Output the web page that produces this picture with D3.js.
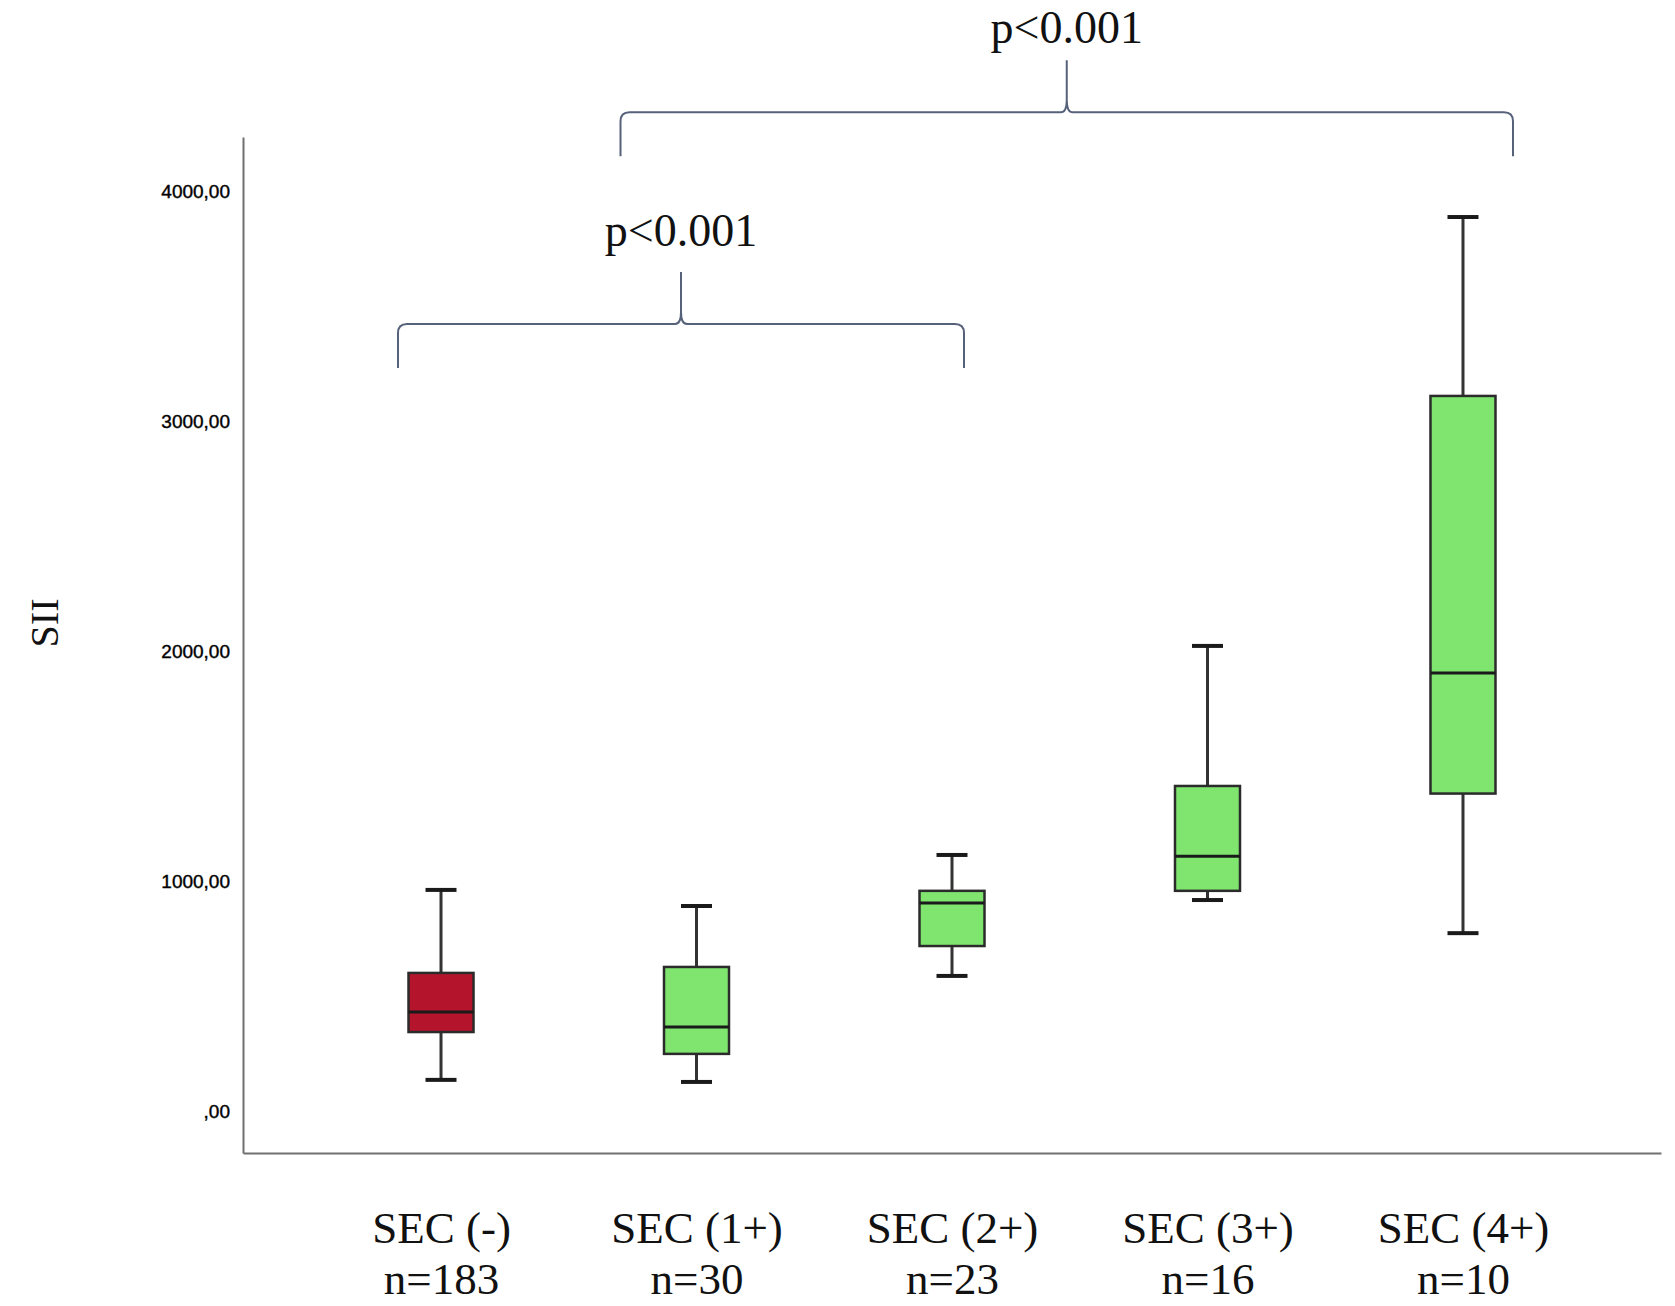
<!DOCTYPE html>
<html>
<head>
<meta charset="utf-8">
<script src="https://cdn.jsdelivr.net/npm/d3@7"></script>
<style>
  body { margin: 0; background: #fff; }
  svg { display: block; }
  .serif { font-family: "Liberation Serif", "Times New Roman", serif; fill: #111; }
</style>
</head>
<body>
<svg></svg>
<script>
// data
const categories = ["SEC (-)", "SEC (1+)", "SEC (2+)", "SEC (3+)", "SEC (4+)"];
const counts = [183, 30, 23, 16, 10];
const whiskerLow = [135, 126, 587, 917, 773];
const q1 = [343, 248, 717, 957, 1380];
const median = [430, 365, 904, 1107, 1904];
const q3 = [600, 626, 957, 1413, 3109];
const whiskerHigh = [961, 891, 1113, 2022, 3887];
const yTicks = [0, 1000, 2000, 3000, 4000];
const yDomain = [-183, 4235];
const comparisons = [
  { from: 0, to: 2, level: 3422, label: "p<0.001" },
  { from: 1, to: 4, level: 4343, label: "p<0.001" }
];

const width = 1675, height = 1306;
const margin = ({ top: 137, right: 14, bottom: 153, left: 243 });

const boxes = categories.map((c, i) => ({
  cat: c, n: counts[i], lo: whiskerLow[i], q1: q1[i], med: median[i], q3: q3[i], hi: whiskerHigh[i]
}));

const x = d3.scalePoint()
  .domain(categories)
  .range([margin.left, width - margin.right])
  .padding(0.775);

const y = d3.scaleLinear()
  .domain(yDomain)
  .range([height - margin.bottom, margin.top]);

const color = d3.scaleOrdinal(categories, ["#b5152c", "#7fe56f", "#7fe56f", "#7fe56f", "#7fe56f"]);

const boxWidth = 65;
const capWidth = 31;

const svg = d3.select("svg")
  .attr("width", width)
  .attr("height", height)
  .attr("viewBox", [0, 0, width, height]);

// y axis
const yAxis = g => g
  .attr("transform", `translate(${margin.left},0)`)
  .call(d3.axisLeft(y)
    .tickValues(yTicks)
    .tickSize(0)
    .tickSizeOuter(0)
    .tickPadding(13)
    .tickFormat(d => d === 0 ? ",00" : d + ",00"))
  .call(g => g.select(".domain").attr("stroke", "#707070").attr("stroke-width", 2))
  .call(g => g.selectAll(".tick text")
    .attr("font-family", "'Liberation Sans', Arial, sans-serif")
    .attr("font-size", 19)
    .attr("fill", "#000")
    .attr("stroke", "#000")
    .attr("stroke-width", 0.4));

// x axis with two-line labels
const xAxis = g => g
  .attr("transform", `translate(0,${height - margin.bottom})`)
  .call(d3.axisBottom(x).tickSize(0).tickSizeOuter(0).tickFormat(""))
  .call(g => g.select(".domain").attr("stroke", "#707070").attr("stroke-width", 2))
  .call(g => g.selectAll(".tick").each(function (d, i) {
    const t = d3.select(this).append("text")
      .attr("class", "serif")
      .attr("text-anchor", "middle")
      .attr("font-size", 45)
      .attr("fill", "#111");
    t.append("tspan").attr("x", 0).attr("y", 90).text(d);
    t.append("tspan").attr("x", 0).attr("y", 141).text("n=" + counts[i]);
  }));

svg.append("g").call(yAxis);
svg.append("g").call(xAxis);

// y title
svg.append("text")
  .attr("class", "serif")
  .attr("transform", `translate(58,${(margin.top + height - margin.bottom) / 2 - 22}) rotate(-90)`)
  .attr("text-anchor", "middle")
  .attr("font-size", 40)
  .text("SII");

// boxplots
const box = svg.append("g")
  .selectAll("g")
  .data(boxes)
  .join("g")
  .attr("transform", d => `translate(${x(d.cat)},0)`);

box.append("line")
  .attr("y1", d => y(d.lo))
  .attr("y2", d => y(d.q1))
  .attr("stroke", "#333")
  .attr("stroke-width", 3);

box.append("line")
  .attr("y1", d => y(d.q3))
  .attr("y2", d => y(d.hi))
  .attr("stroke", "#333")
  .attr("stroke-width", 3);

box.selectAll(".cap")
  .data(d => [d.lo, d.hi])
  .join("line")
  .attr("class", "cap")
  .attr("x1", -capWidth / 2)
  .attr("x2", capWidth / 2)
  .attr("y1", v => y(v))
  .attr("y2", v => y(v))
  .attr("stroke", "#1a1a1a")
  .attr("stroke-width", 4);

box.append("rect")
  .attr("x", -boxWidth / 2)
  .attr("width", boxWidth)
  .attr("y", d => y(d.q3))
  .attr("height", d => y(d.q1) - y(d.q3))
  .attr("fill", d => color(d.cat))
  .attr("stroke", "#2b2b2b")
  .attr("stroke-width", 2.5);

box.append("line")
  .attr("x1", -boxWidth / 2)
  .attr("x2", boxWidth / 2)
  .attr("y1", d => y(d.med))
  .attr("y2", d => y(d.med))
  .attr("stroke", "#1a1a1a")
  .attr("stroke-width", 3);

// significance brackets
const leftPad = [43, 76];
const rightPad = [12, 50];
const drop = 44, tipH = 52, r = 9, tr = 6;

comparisons.forEach((c, i) => {
  const x0 = x(categories[c.from]) - leftPad[i];
  const x1 = x(categories[c.to]) + rightPad[i];
  const hy = y(c.level);
  const tx = (x0 + x1) / 2;
  const p = d3.path();
  p.moveTo(x0, hy + drop);
  p.lineTo(x0, hy + r);
  p.quadraticCurveTo(x0, hy, x0 + r, hy);
  p.lineTo(tx - tr, hy);
  p.quadraticCurveTo(tx, hy, tx, hy - 12);
  p.lineTo(tx, hy - tipH);
  p.moveTo(tx, hy - 12);
  p.quadraticCurveTo(tx, hy, tx + tr, hy);
  p.lineTo(x1 - r, hy);
  p.quadraticCurveTo(x1, hy, x1, hy + r);
  p.lineTo(x1, hy + drop);
  svg.append("path")
    .attr("d", p.toString())
    .attr("fill", "none")
    .attr("stroke", "#56617a")
    .attr("stroke-width", 2);
  svg.append("text")
    .attr("class", "serif")
    .attr("x", tx)
    .attr("y", hy - tipH - (i === 0 ? 26 : 17))
    .attr("text-anchor", "middle")
    .attr("font-size", 46)
    .text(c.label);
});
</script>
</body>
</html>
